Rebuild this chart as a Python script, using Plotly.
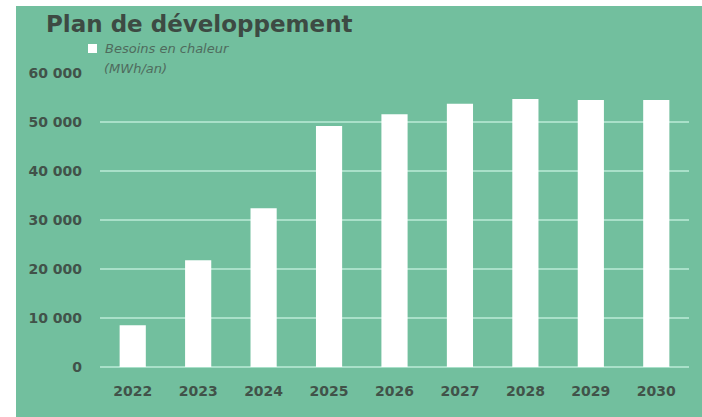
import plotly.graph_objects as go

years = ["2022", "2023", "2024", "2025", "2026", "2027", "2028", "2029", "2030"]
besoins = [8500, 21800, 32400, 49200, 51600, 53700, 54700, 54500, 54500]
tick_vals = [0, 10000, 20000, 30000, 40000, 50000, 60000]
tick_text = ["0", "10 000", "20 000", "30 000", "40 000", "50 000", "60 000"]
series_name = "Besoins en chaleur"
series_unit = "(MWh/an)"

GREEN = "#72BF9E"
GRID = "#A9E0C9"
TXT = "#415249"
FONT = "DejaVu Sans, sans-serif"

W, H = 702, 417
L, R, T, B = 100, 702 - 689, 73, 417 - 367
pw = W - L - R
ph = H - T - B


def px(xp):
    return (xp - L) / pw


def py(yp):
    return (367 - yp) / ph


fig = go.Figure()
fig.add_trace(go.Bar(
    x=years, y=besoins,
    name=series_name + " " + series_unit,
    marker=dict(color="white", line=dict(width=0)),
    showlegend=False,
))

fig.update_layout(
    width=W, height=H,
    margin=dict(l=L, r=R, t=T, b=B, pad=0),
    paper_bgcolor="white",
    plot_bgcolor=GREEN,
    bargap=0.6,
    font=dict(family=FONT, color=TXT),
    title=dict(text="<b>Plan de développement</b>", x=46 / W, xanchor="left",
               y=1 - 24 / H, yanchor="middle",
               font=dict(size=23, color="#3D4A43", family=FONT)),
    xaxis=dict(type="category", range=[-0.5, 8.5], showgrid=False,
               showline=False, ticks="",
               tickfont=dict(size=14, color=TXT, family=FONT, weight="bold"),
               ticklabelstandoff=14),
    yaxis=dict(range=[0, 60000], tickvals=tick_vals, ticktext=tick_text,
               showgrid=True, gridcolor=GRID, gridwidth=2,
               zeroline=True, zerolinecolor=GRID, zerolinewidth=2,
               showline=False, ticks="",
               tickfont=dict(size=14, color=TXT, family=FONT, weight="bold"),
               ticklabelstandoff=17),
    shapes=[
        dict(type="rect", xref="paper", yref="paper", layer="below",
             x0=px(16), x1=px(W + 5), y0=py(H + 5), y1=py(6),
             fillcolor=GREEN, line=dict(width=0)),
        dict(type="rect", xref="paper", yref="paper", layer="above",
             x0=px(88), x1=px(97), y0=py(53), y1=py(44),
             fillcolor="white", line=dict(width=0)),
    ],
    annotations=[
        dict(text="<i>" + series_name + "</i>", xref="paper", yref="paper",
             x=px(103), y=py(48), xanchor="left", yanchor="middle",
             showarrow=False, font=dict(size=13, color="#4F6B5D", family=FONT)),
        dict(text="<i>" + series_unit + "</i>", xref="paper", yref="paper",
             x=px(100), y=py(68), xanchor="left", yanchor="middle",
             showarrow=False, bgcolor=GREEN, borderpad=3,
             font=dict(size=13, color="#4F6B5D", family=FONT)),
    ],
)

fig.write_html("out.html")
